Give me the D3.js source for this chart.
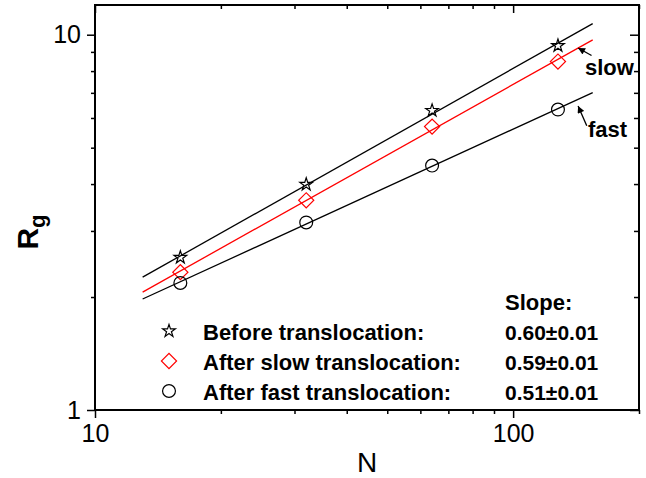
<!DOCTYPE html>
<html>
<head>
<meta charset="utf-8">
<script src="https://cdn.jsdelivr.net/npm/d3@7"></script>
<style>
  body { margin: 0; background: #fff; }
  svg { display: block; font-family: "Liberation Sans", Arial, Helvetica, sans-serif; }
</style>
</head>
<body>
<script>
// Data
var chainLengths = [16, 32, 64, 128];
var rgBefore = [2.55, 3.99, 6.28, 9.35];
var rgSlow = [2.33, 3.62, 5.69, 8.48];
var rgFast = [2.18, 3.16, 4.48, 6.32];
var fitRange = [13, 155];

var legendLabels = ["Before translocation:", "After slow translocation:", "After fast translocation:"];
var slopeLabels = ["0.60\u00b10.01", "0.59\u00b10.01", "0.51\u00b10.01"];

var xMajor = [10, 100];
var xMinor = [20, 30, 40, 50, 60, 70, 80, 90, 200];
var yMajor = [1, 10];
var yMinor = [2, 3, 4, 5, 6, 7, 8, 9];

var width = 646, height = 478;
var plotLeft = 95, plotRight = 639, plotTop = 5, plotBottom = 410;

var svg = d3.select("body").append("svg").attr("width", width).attr("height", height);

// Skalaer
var x = d3.scaleLog().domain([10, 200]).range([plotLeft, plotRight]);
var y = d3.scaleLog().domain([1, 12]).range([plotBottom, plotTop]);

// Aksen - bund og venstre med ticks udad, top og hoejre indad
function noLabel() { return ""; }
svg.append("g").attr("class", "axis").attr("transform", "translate(0," + plotBottom + ")")
  .call(d3.axisBottom(x).tickValues(xMajor).tickSize(8).tickPadding(6).tickFormat(d3.format("d")));
svg.append("g").attr("class", "axis").attr("transform", "translate(0," + plotBottom + ")")
  .call(d3.axisBottom(x).tickValues(xMinor).tickSize(4).tickFormat(noLabel));
svg.append("g").attr("class", "axis").attr("transform", "translate(0," + plotTop + ")")
  .call(d3.axisTop(x).tickValues(xMajor).tickSize(-8).tickFormat(noLabel));
svg.append("g").attr("class", "axis").attr("transform", "translate(0," + plotTop + ")")
  .call(d3.axisTop(x).tickValues(xMinor).tickSize(-4).tickFormat(noLabel));

svg.append("g").attr("class", "axis").attr("transform", "translate(" + plotLeft + ",0)")
  .call(d3.axisLeft(y).tickValues(yMajor).tickSize(8).tickPadding(6).tickFormat(d3.format("d")));
svg.append("g").attr("class", "axis").attr("transform", "translate(" + plotLeft + ",0)")
  .call(d3.axisLeft(y).tickValues(yMinor).tickSize(4).tickFormat(noLabel));
svg.append("g").attr("class", "axis").attr("transform", "translate(" + plotRight + ",0)")
  .call(d3.axisRight(y).tickValues(yMajor).tickSize(-9).tickFormat(noLabel));
svg.append("g").attr("class", "axis").attr("transform", "translate(" + plotRight + ",0)")
  .call(d3.axisRight(y).tickValues(yMinor).tickSize(-5).tickFormat(noLabel));

svg.selectAll(".axis .domain").remove();
svg.selectAll(".axis line").attr("stroke", "#000").attr("stroke-width", 1.5);
svg.selectAll(".axis text").attr("fill", "#000").attr("font-size", "25px")
  .attr("font-family", "'Liberation Sans', Arial, sans-serif");

// Ramme
svg.append("rect").attr("x", plotLeft).attr("y", plotTop)
  .attr("width", plotRight - plotLeft).attr("height", plotBottom - plotTop)
  .attr("fill", "none").attr("stroke", "#000").attr("stroke-width", 2);

// Serier
var series = [
  { values: rgBefore, color: "#000", symbol: "star" },
  { values: rgSlow, color: "#ff0000", symbol: "diamond" },
  { values: rgFast, color: "#000", symbol: "circle" }
];

// Lineaer fit i log-log rummet
function fit(values) {
  var lx = chainLengths.map(Math.log10), ly = values.map(Math.log10);
  var mx = d3.mean(lx), my = d3.mean(ly);
  var sxy = d3.sum(lx, function(v, i) { return (v - mx) * (ly[i] - my); });
  var sxx = d3.sum(lx, function(v) { return (v - mx) * (v - mx); });
  var b = sxy / sxx, a = my - b * mx;
  return function(n) { return Math.pow(10, a + b * Math.log10(n)); };
}

function symbolPath(kind) {
  if (kind === "star") return d3.symbol().type(d3.symbolStar).size(50)();
  if (kind === "diamond") return d3.symbol().type(d3.symbolSquare).size(115)();
  return d3.symbol().type(d3.symbolCircle).size(130)();
}

series.forEach(function(s) {
  var f = fit(s.values);
  svg.append("line")
    .attr("x1", x(fitRange[0])).attr("y1", y(f(fitRange[0])))
    .attr("x2", x(fitRange[1])).attr("y2", y(f(fitRange[1])))
    .attr("stroke", s.color).attr("stroke-width", 1.3);

  svg.selectAll(null)
    .data(s.values)
    .enter()
    .append("path")
    .attr("d", symbolPath(s.symbol))
    .attr("transform", function(d, i) {
      return "translate(" + x(chainLengths[i]) + "," + y(d) + ")" + (s.symbol === "diamond" ? " rotate(45)" : "");
    })
    .attr("fill", "none").attr("stroke", s.color).attr("stroke-width", 1.2);
});

// Pile med "slow" og "fast"
svg.append("defs").append("marker")
  .attr("id", "head").attr("viewBox", "0 0 10 10").attr("refX", 10).attr("refY", 5)
  .attr("markerWidth", 9).attr("markerHeight", 7).attr("markerUnits", "userSpaceOnUse")
  .attr("orient", "auto")
  .append("path").attr("d", "M0,0L10,5L0,10Z").attr("fill", "#000");

var arrows = [
  { from: [154, 8.8], to: [143, 9.22] },
  { from: [150, 5.72], to: [143, 6.46] }
];
arrows.forEach(function(a) {
  svg.append("line")
    .attr("x1", x(a.from[0])).attr("y1", y(a.from[1]))
    .attr("x2", x(a.to[0])).attr("y2", y(a.to[1]))
    .attr("stroke", "#000").attr("stroke-width", 1.3)
    .attr("marker-end", "url(#head)");
});

svg.append("text").attr("x", 585).attr("y", 75).attr("font-size", "22px").attr("font-weight", "bold").text("slow");
svg.append("text").attr("x", 588).attr("y", 137).attr("font-size", "22px").attr("font-weight", "bold").text("fast");

// Legende
svg.append("text").attr("x", 505).attr("y", 310).attr("font-size", "22px").attr("font-weight", "bold").text("Slope:");
series.forEach(function(s, i) {
  var yy = 340 + i * 30;
  svg.append("path")
    .attr("d", symbolPath(s.symbol))
    .attr("transform", "translate(169," + (yy - 9) + ")" + (s.symbol === "diamond" ? " rotate(45)" : ""))
    .attr("fill", "none").attr("stroke", s.color).attr("stroke-width", 1.2);
  svg.append("text").attr("x", 203).attr("y", yy).attr("font-size", "22px").attr("font-weight", "bold")
    .text(legendLabels[i]);
  svg.append("text").attr("x", 505).attr("y", yy).attr("font-size", "21px").attr("font-weight", "bold")
    .text(slopeLabels[i]);
});

// Aksetitler
svg.append("text").attr("x", (plotLeft + plotRight) / 2).attr("y", 472).attr("text-anchor", "middle")
  .attr("font-size", "28px").text("N");

var rg = svg.append("text").attr("transform", "translate(38,232) rotate(-90)")
  .attr("text-anchor", "middle").attr("font-size", "30px").attr("font-weight", "bold");
rg.append("tspan").text("R");
rg.append("tspan").attr("dy", 7).attr("font-size", "22px").text("g");
</script>
</body>
</html>
